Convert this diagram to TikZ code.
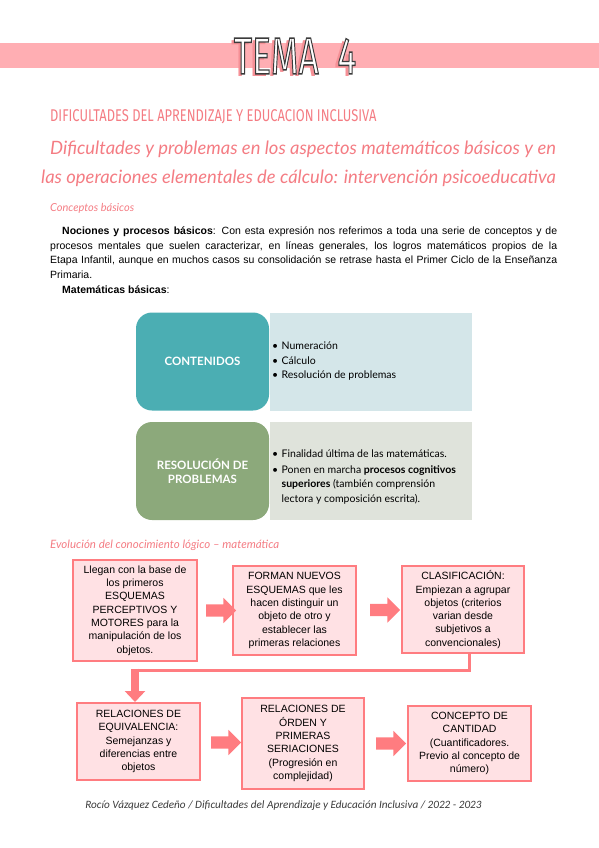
\documentclass[tikz,border=0pt]{standalone}
\usepackage{fontspec}
\setmainfont{Liberation Sans}
\newfontfamily\gillfont{Lato}
\newfontfamily\handfont{Lato}
\newfontfamily\footfont{Carlito}
\newfontfamily\bannerfont{Fira Sans}
\definecolor{clBand}{HTML}{FFAEB3}
\definecolor{clRose}{HTML}{F47C83}
\definecolor{clFlowLine}{HTML}{FF7C80}
\definecolor{clFlowFill}{HTML}{FFE1E4}
\definecolor{clTeal}{HTML}{4BAEB3}
\definecolor{clTealLight}{HTML}{D4E6E9}
\definecolor{clSage}{HTML}{8CA97B}
\definecolor{clSageLight}{HTML}{DFE3DB}
\definecolor{clInk}{HTML}{3A3A3A}
\usetikzlibrary{arrows.meta,positioning,calc,shapes.arrows}
\newcommand{\bul}{\makebox[9.5pt][l]{\textbullet}}
% outlined letters: fill + stroke
\newcommand{\outlined}[1]{\special{pdf:literal direct 2 Tr 1.4 w 0.23 0.23 0.23 RG}#1\special{pdf:literal direct 0 Tr}}
\tikzset{
  rosetext/.style={anchor=west, inner sep=0pt, text=clRose},
  banner/.style={inner sep=0pt, font=\bannerfont\fontsize{52}{52}\selectfont},
  catbox/.style={rounded corners=16pt, minimum width=133pt, minimum height=98pt,
                 text=white, align=center, inner sep=0pt,
                 font=\gillfont\bfseries\fontsize{11.5}{14}\selectfont},
  panel/.style={anchor=west, minimum width=202pt, minimum height=98pt, inner sep=0pt},
  bullets/.style={anchor=west, align=left, inner sep=0pt,
                  font=\gillfont\fontsize{10.5}{14.5}\selectfont},
  flowbox/.style={draw=clFlowLine, fill=clFlowFill, line width=2pt, align=center,
                  inner sep=1pt, font=\fontsize{10.5}{13.3}\selectfont},
  blockarrow/.style={single arrow, fill=clFlowLine, draw=none, minimum height=30pt,
                     inner xsep=0pt, inner ysep=6pt, single arrow head extend=6.5pt},
  elbow/.style={draw=clFlowLine, line width=3pt},
  dropstub/.style={draw=clFlowLine, line width=8pt, -{Triangle[width=20pt,length=11pt]}},
}
\begin{document}
\begin{tikzpicture}[x=1pt, y=-1pt]
  \useasboundingbox (0,0) rectangle (599,848);
  % title band
  \fill[clBand] (0,43) rectangle (599,68);
  \node[banner, text=clRose!85] (temashadow) at (292.5,58.5)
    {\scalebox{0.68}[1]{TEMA\ \ 4}};
  \node[banner, text=white] (tema) at (295,56)
    {\scalebox{0.68}[1]{\outlined{TEMA\ \ 4}}};

  % headings
  \node[rosetext, font=\bannerfont\fontsize{17}{17}\selectfont] (subject) at (50,117)
    {\scalebox{0.758}[1]{DIFICULTADES DEL APRENDIZAJE Y EDUCACION INCLUSIVA}};
  \node[rosetext, font=\handfont\itshape\fontsize{18.4}{20}\selectfont] (topic1) at (50,149)
    {Dificultades y problemas en los aspectos matemáticos básicos y en};
  \node[rosetext, font=\handfont\itshape\fontsize{18.4}{20}\selectfont] (topic2) at (41,178)
    {las operaciones elementales de cálculo: intervención psicoeducativa};
  \node[rosetext, font=\handfont\itshape\fontsize{11}{12}\selectfont] (basics) at (50,208)
    {Conceptos básicos};

  % intro paragraph
  \node[anchor=north west, text width=507pt, inner sep=0pt, align=justify,
        font=\fontsize{10.5}{14.5}\selectfont] (intro) at (50,227)
    {\hspace*{12pt}\textbf{Nociones y procesos básicos}: Con esta expresión nos referimos a toda una serie de conceptos y de\linebreak
     procesos mentales que suelen caracterizar, en líneas generales, los logros matemáticos propios de la\linebreak
     Etapa Infantil, aunque en muchos casos su consolidación se retrase hasta el Primer Ciclo de la Enseñanza\linebreak
     Primaria.};
  \node[anchor=west, inner sep=0pt, font=\fontsize{10.5}{13}\selectfont] (matlabel) at (62,290)
    {\textbf{Matemáticas básicas}:};

  % contents and problem solving
  \node[catbox, fill=clTeal] (cont) at (202.5,361.5) {CONTENIDOS};
  \node[panel, fill=clTealLight] (contpanel) at (270,361.5) {};
  \node[bullets] (contlist) at (272,361.5)
    {\bul Numeración\\ \bul Cálculo\\ \bul Resolución de problemas};
  \node[catbox, fill=clSage] (resol) at (202.5,471) {RESOLUCIÓN DE\\PROBLEMAS};
  \node[panel, fill=clSageLight] (resolpanel) at (270,471) {};
  \node[bullets] (resollist) at (272,477)
    {\bul Finalidad última de las matemáticas.\\[1pt]
     \bul Ponen en marcha \textbf{procesos cognitivos}\\
     \hspace*{9.5pt}\textbf{superiores} (también comprensión\\
     \hspace*{9.5pt}lectora y composición escrita).};

  \node[rosetext, font=\handfont\itshape\fontsize{11.5}{12}\selectfont] (evol) at (50,545)
    {Evolución del conocimiento lógico – matemática};

  % first row
  \node[flowbox, minimum width=124pt, minimum height=101pt] (b1) at (135,610.5)
    {Llegan con la base de\\los primeros\\ESQUEMAS\\PERCEPTIVOS Y\\MOTORES para la\\manipulación de los\\objetos.};
  \node[flowbox, minimum width=123pt, minimum height=89pt] (b2) at (294.5,610.5)
    {FORMAN NUEVOS\\ESQUEMAS que les\\hacen distinguir un\\objeto de otro y\\establecer las\\primeras relaciones};
  \node[flowbox, minimum width=122pt, minimum height=87pt] (b3) at (463,609.5)
    {CLASIFICACIÓN:\\Empiezan a agrupar\\objetos (criterios\\varian desde\\subjetivos a\\convencionales)};
  % second row
  \node[flowbox, minimum width=123pt, minimum height=77pt] (b4) at (138.5,741.5)
    {RELACIONES DE\\EQUIVALENCIA:\\Semejanzas y\\diferencias entre\\objetos};
  \node[flowbox, minimum width=122pt, minimum height=91pt] (b5) at (303,743.5)
    {RELACIONES DE\\ÓRDEN Y\\PRIMERAS\\SERIACIONES\\(Progresión en\\complejidad)};
  \node[flowbox, minimum width=123pt, minimum height=75pt] (b6) at (469.5,743.5)
    {CONCEPTO DE\\CANTIDAD\\(Cuantificadores.\\Previo al concepto de\\número)};

  \node[blockarrow, xshift=3pt] (a1) at ($(b1.east)!0.5!(b2.west)$) {};
  \node[blockarrow, xshift=3pt] (a2) at ($(b2.east)!0.5!(b3.west)$) {};
  \node[blockarrow, xshift=2pt] (a3) at ($(b4.east)!0.5!(b5.west)$) {};
  \node[blockarrow, xshift=2pt] (a4) at ($(b5.east)!0.5!(b6.west)$) {};

  \coordinate (bend) at ($(b3.south)+(6,0)$);
  \coordinate (drop) at ($(b4.north)+(-3.5,-32)$);
  \draw[elbow] (bend) |- (drop);
  \draw[dropstub] ($(drop)+(0,-1.5)$) -- (drop |- b4.north);

  % footer
  \node[inner sep=0pt, font=\footfont\itshape\fontsize{11.2}{12}\selectfont, text=clInk] (footer) at (283.5,806)
    {Rocío Vázquez Cedeño / Dificultades del Aprendizaje y Educación Inclusiva / 2022 - 2023};
\end{tikzpicture}
\end{document}
